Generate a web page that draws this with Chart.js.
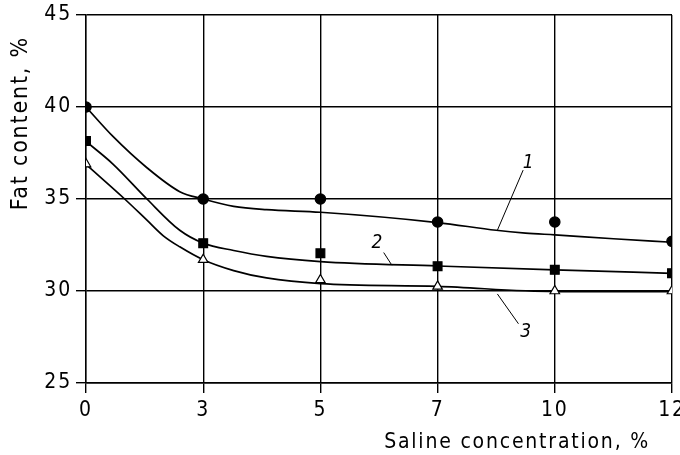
<!DOCTYPE html>
<html>
<head>
<meta charset="utf-8">
<script src="https://cdn.jsdelivr.net/npm/chart.js@4"></script>
<style>
  html, body { margin: 0; padding: 0; background: #fff; }
  #wrap { width: 680px; height: 455px; }
</style>
</head>
<body>
<div id="wrap"><canvas id="fatChart"></canvas></div>
<script>
// saline concentration ticks, evenly spaced on the axis
const salineLabels = ['0', '3', '5', '7', '10', '12'];
const salinePos = [0, 1, 2, 3, 4, 5];

// measured fat content, %
const fat1 = [40.0, 35.0, 35.0, 33.75, 33.75, 32.7];
const fat2 = [38.15, 32.6, 32.05, 31.35, 31.15, 30.97];
const fat3 = [36.9, 31.7, 30.6, 30.25, 30.0, 30.0];

// smoothed curves
const curve1X = [0, 0.23, 0.52, 0.8, 1, 1.26, 1.54, 2, 3, 3.5, 3.75, 4, 4.5, 5];
const curve1Y = [40.0, 38.4, 36.7, 35.4, 35.0, 34.6, 34.42, 34.28, 33.72, 33.3, 33.15, 33.05, 32.84, 32.65];
const curve2X = [0, 0.23, 0.52, 0.8, 1, 1.26, 1.54, 2, 3, 4, 5];
const curve2Y = [38.13, 36.9, 35.0, 33.3, 32.6, 32.2, 31.88, 31.6, 31.36, 31.15, 30.96];
const curve3X = [0, 0.33, 0.52, 0.66, 0.8, 1, 1.26, 1.54, 2, 3, 4, 5];
const curve3Y = [36.88, 35.0, 33.85, 33.0, 32.4, 31.7, 31.11, 30.71, 30.4, 30.25, 29.97, 29.97];

const yTicks = [25, 30, 35, 40, 45];

const xTitle = 'Saline concentration, %';
const yTitle = 'Fat content, %';

// curve numbers with leader lines: [label, labelX, labelY, fromX, fromY, toX, toY]
const curveTags = [
    ['1', 3.78, 36.95, 3.73, 36.57, 3.51, 33.3],
    ['2', 2.49, 32.6, 2.54, 32.09, 2.61, 31.4],
    ['3', 3.76, 27.76, 3.69, 28.22, 3.51, 29.84]
];

const toPoints = (xs, ys) => xs.map((x, i) => ({ x: x, y: ys[i] }));

const FONT = "'DejaVu Sans Condensed', 'DejaVu Sans', sans-serif";

// drafting-style text: a bit of extra tracking on everything
const spacingPlugin = {
    id: 'tracking',
    beforeDraw(chart) {
        chart.ctx.letterSpacing = '1.8px';
    }
};

// axis titles sit off-centre, so they are drawn here
const axisTitlePlugin = {
    id: 'axisTitles',
    afterDraw(chart) {
        const ctx = chart.ctx;
        const area = chart.chartArea;
        ctx.save();
        ctx.fillStyle = '#000';
        ctx.textBaseline = 'alphabetic';

        ctx.font = "21px " + FONT;
        ctx.textAlign = 'right';
        ctx.fillText(xTitle, area.right - 22, 448);

        ctx.font = "23px " + FONT;
        ctx.translate(27, area.top + 21);
        ctx.rotate(-Math.PI / 2);
        ctx.textAlign = 'right';
        ctx.fillText(yTitle, 0, 0);
        ctx.restore();
    }
};

const curveTagPlugin = {
    id: 'curveTags',
    afterDatasetsDraw(chart) {
        const ctx = chart.ctx;
        const sx = chart.scales.x, sy = chart.scales.y;
        ctx.save();
        ctx.strokeStyle = '#000';
        ctx.fillStyle = '#000';
        ctx.lineWidth = 1;
        ctx.font = "italic 19px " + FONT;
        ctx.textAlign = 'center';
        ctx.textBaseline = 'middle';
        curveTags.forEach(t => {
            ctx.beginPath();
            ctx.moveTo(sx.getPixelForValue(t[3]), sy.getPixelForValue(t[4]));
            ctx.lineTo(sx.getPixelForValue(t[5]), sy.getPixelForValue(t[6]));
            ctx.stroke();
            ctx.fillText(t[0], sx.getPixelForValue(t[1]), sy.getPixelForValue(t[2]));
        });
        ctx.restore();
    }
};

const curveStyle = {
    type: 'line',
    borderColor: '#000',
    borderWidth: 1.7,
    pointRadius: 0,
    fill: false,
    cubicInterpolationMode: 'monotone',
    order: 2
};

const markStyle = {
    type: 'scatter',
    showLine: false,
    borderColor: '#000',
    borderWidth: 1.2,
    order: 1
};

new Chart(document.getElementById('fatChart'), {
    data: {
        datasets: [
            Object.assign({ data: toPoints(curve1X, curve1Y) }, curveStyle),
            Object.assign({ data: toPoints(curve2X, curve2Y) }, curveStyle),
            Object.assign({ data: toPoints(curve3X, curve3Y) }, curveStyle),
            Object.assign({ data: toPoints(salinePos, fat1), pointStyle: 'circle', pointRadius: 5.2, backgroundColor: '#000' }, markStyle),
            Object.assign({ data: toPoints(salinePos, fat2), pointStyle: 'rect', pointRadius: 6.2, backgroundColor: '#000' }, markStyle),
            Object.assign({ data: toPoints(salinePos, fat3), pointStyle: 'triangle', pointRadius: 5.5, backgroundColor: '#fff' }, markStyle)
        ]
    },
    options: {
        responsive: true,
        maintainAspectRatio: false,
        animation: false,
        layout: { padding: { top: 15, right: 8, left: 0, bottom: 0 } },
        plugins: {
            legend: { display: false },
            tooltip: { enabled: false }
        },
        scales: {
            x: {
                type: 'linear',
                min: 0,
                max: 5,
                afterBuildTicks: scale => { scale.ticks = salinePos.map(v => ({ value: v })); },
                ticks: {
                    color: '#000',
                    font: { family: FONT, size: 21 },
                    padding: 5,
                    maxRotation: 0,
                    callback: (v) => salineLabels[v]
                },
                grid: { color: '#000', lineWidth: 1.4, tickLength: 10 },
                border: { color: '#000', width: 1.4 },
                afterFit: scale => {
                    scale.height = 72;
                    scale.paddingLeft = 0;
                    scale.paddingRight = 0;
                }
            },
            y: {
                min: 25,
                max: 45,
                afterBuildTicks: scale => { scale.ticks = yTicks.map(v => ({ value: v })); },
                ticks: {
                    color: '#000',
                    font: { family: FONT, size: 21 },
                    padding: 4
                },
                grid: { color: '#000', lineWidth: 1.4, tickLength: 10 },
                border: { color: '#000', width: 1.4 },
                afterFit: scale => {
                    scale.width = 86;
                    scale.paddingTop = 0;
                    scale.paddingBottom = 0;
                }
            }
        }
    },
    plugins: [spacingPlugin, axisTitlePlugin, curveTagPlugin]
});
</script>
</body>
</html>
